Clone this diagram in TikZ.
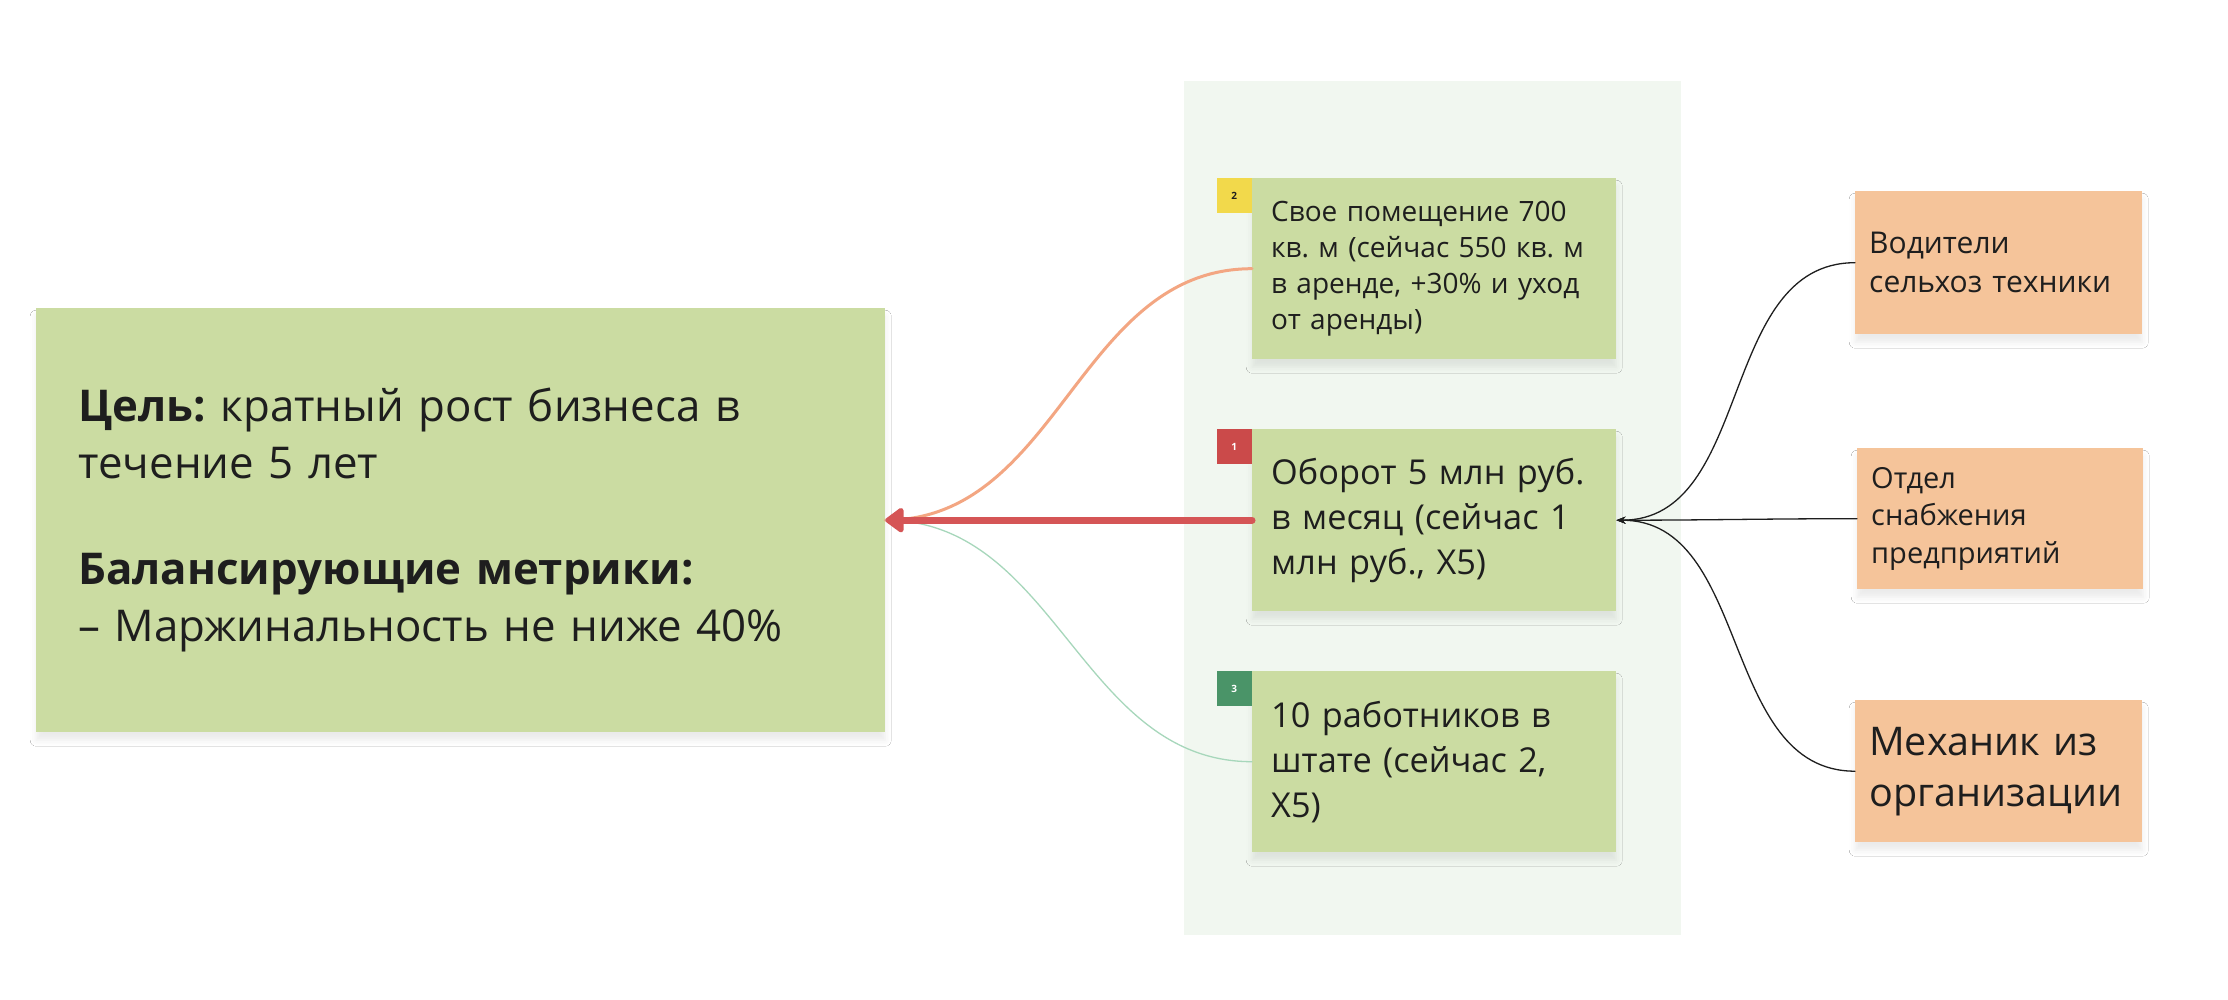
\documentclass[tikz,border=0pt]{standalone}
\usepackage{fontspec}
\setmainfont{Open Sans}
\usetikzlibrary{arrows.meta, positioning, shadows.blur}
\definecolor{goalgreen}{RGB}{203,220,162}
\definecolor{panel}{RGB}{241,247,240}
\definecolor{peach}{RGB}{245,196,154}
\definecolor{badgered}{RGB}{203,74,74}
\definecolor{badgeyel}{RGB}{242,217,75}
\definecolor{badgegreen}{RGB}{74,148,104}
\definecolor{arrowred}{RGB}{213,85,86}
\definecolor{linkorange}{RGB}{243,166,130}
\definecolor{linkgreen}{RGB}{167,215,187}
\definecolor{ink}{RGB}{30,30,30}
\frenchspacing

\tikzset{
  card/.style={fill=#1, anchor=north west, inner ysep=0pt, align=left, text=ink,
    blur shadow={shadow xshift=0pt, shadow yshift=-8pt, shadow opacity=8, shadow blur radius=6pt}},
  badge/.style={fill=#1, anchor=north east, minimum size=35pt, inner sep=0pt, text=white,
    font=\fontsize{10}{10}\selectfont\bfseries},
  link/.style={line width=#1, line cap=round},
}

\begin{document}
\begin{tikzpicture}[x=1pt, y=-1pt]
  \useasboundingbox (0,0) rectangle (2228,1000);
  \fill[white] (0,0) rectangle (2228,1000);
  % panel behind the key results
  \fill[panel] (1184,81) rectangle (1681,935);

  % goal
  \node[card=goalgreen, inner xsep=42pt, text width=765pt, minimum height=424pt,
        font=\fontsize{43.8}{57}\selectfont] (goal) at (36,308)
    {{\bfseries Цель:} кратный рост бизнеса в\\
     течение 5 лет\\[49pt]
     {\bfseries Балансирующие метрики:}\\
     – Маржинальность не ниже 40\%};

  % key results
  \node[card=goalgreen, inner xsep=19pt, text width=326pt, minimum height=181pt,
        font=\fontsize{28}{36}\selectfont] (room) at (1252,178)
    {Свое помещение 700\\ кв. м (сейчас 550 кв. м\\ в аренде, +30\% и уход\\ от аренды)};
  \node[card=goalgreen, inner xsep=19pt, text width=326pt, minimum height=182pt,
        font=\fontsize{34.3}{45}\selectfont] (rev) at (1252,429)
    {Оборот 5 млн руб.\\ в месяц (сейчас 1\\ млн руб., Х5)};
  \node[card=goalgreen, inner xsep=19pt, text width=326pt, minimum height=181pt,
        font=\fontsize{34.3}{45}\selectfont] (staff) at (1252,671)
    {10 работников в\\ штате (сейчас 2,\\ Х5)};

  \node[badge=badgeyel, text=ink] (b2) at (room.north west) {2};
  \node[badge=badgered] (b1) at (rev.north west) {1};
  \node[badge=badgegreen] (b3) at (staff.north west) {3};

  % sources
  \node[card=peach, inner xsep=14pt, text width=259pt, minimum height=143pt,
        font=\fontsize{30}{39}\selectfont] (drv) at (1855,191)
    {Водители\\ сельхоз техники};
  \node[card=peach, inner xsep=14pt, text width=258pt, minimum height=141pt,
        font=\fontsize{29}{37.5}\selectfont] (supply) at (1857,448)
    {Отдел\\ снабжения\\ предприятий};
  \node[card=peach, inner xsep=14pt, text width=259pt, minimum height=142pt,
        font=\fontsize{39.5}{51}\selectfont] (mech) at (1855,700)
    {Механик из\\ организации};

  % links
  \draw[linkorange, link=3pt] (room.west) to[out=180, in=0] (goal.east);
  \draw[linkgreen, link=1.3pt] (staff.west) to[out=180, in=0] (goal.east);
  \draw[arrowred, link=7pt, -{Triangle[length=20pt, width=28pt, round]}] (rev.west) -- (goal.east);
  \foreach \src in {drv, supply, mech}
    \draw[ink, link=1.3pt, -{Stealth[length=9pt, width=7pt]}] (\src.west) to[out=180, in=0] (rev.east);
\end{tikzpicture}
\end{document}
